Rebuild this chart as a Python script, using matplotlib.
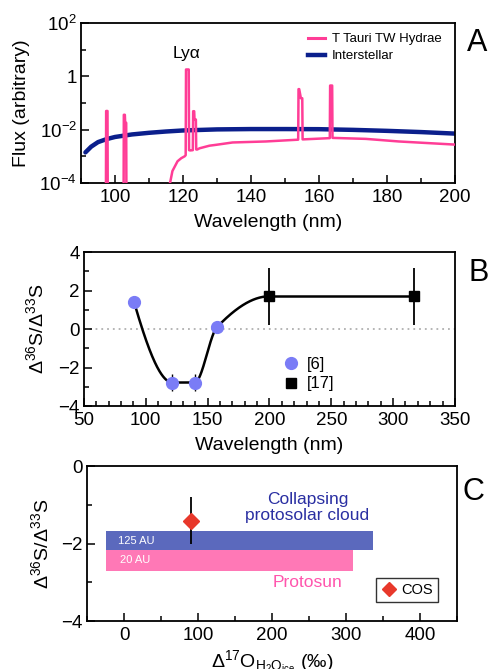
import numpy as np
import matplotlib
matplotlib.use("Agg")
import matplotlib.pyplot as plt
from matplotlib.ticker import MultipleLocator, FixedLocator, FuncFormatter
from matplotlib.lines import Line2D

plt.rcParams['font.family'] = ['Liberation Sans', 'DejaVu Sans']
plt.rcParams['mathtext.fontset'] = 'custom'
plt.rcParams['mathtext.rm'] = 'Liberation Sans'
plt.rcParams['mathtext.it'] = 'Liberation Sans:italic'
plt.rcParams['mathtext.bf'] = 'Liberation Sans:bold'

# ---------------- Panel A data ----------------
tw_wl = [90.0, 97.3, 97.4, 97.8, 97.9,
         102.5, 102.6, 102.9, 103.0, 103.3, 103.4,
         116.2, 116.9, 118.4, 119.5, 120.5, 120.8, 120.9, 121.7, 121.8, 122.1,
         122.9, 123.0, 123.3, 123.4, 123.8, 123.9, 124.2,
         124.9, 127.8, 129.8, 134.6, 144.4, 153.9,
         154.0, 154.2, 154.7, 154.8, 155.1, 155.2,
         163.2, 163.3, 163.9, 164.0, 173.8, 183.5, 200.0]
tw_flux = [1e-6, 1e-6, 0.05, 0.05, 1e-6,
           1e-6, 0.036, 0.036, 0.018, 0.018, 1e-6,
           1e-4, 2.8e-4, 6.5e-4, 8.5e-4, 1.0e-3, 1.1e-3, 1.8, 1.8, 1.7e-3, 1.66e-3,
           1.7e-3, 0.049, 0.049, 0.024, 0.024, 1.8e-3, 1.8e-3,
           2.0e-3, 2.5e-3, 2.7e-3, 3.3e-3, 3.6e-3, 4.2e-3,
           0.33, 0.33, 0.15, 0.15, 0.15, 4.3e-3,
           4.8e-3, 0.45, 0.45, 4.9e-3, 4.5e-3, 3.6e-3, 2.75e-3]

is_wl = [91.3, 93.0, 95.0, 97.5, 100.0, 105.0, 110.0, 115.0, 120.0,
         130.0, 140.0, 150.0, 160.0, 170.0, 180.0, 190.0, 200.0]
is_flux = [1.4e-3, 2.3e-3, 3.4e-3, 4.4e-3, 5.3e-3, 6.6e-3, 7.6e-3, 8.5e-3, 9.3e-3,
           1.02e-2, 1.05e-2, 1.05e-2, 1.04e-2, 9.8e-3, 9.0e-3, 8.1e-3, 7.1e-3]

# ---------------- Panel B data ----------------
ref6_wl = [90.5, 121.5, 139.6, 157.6]
ref6_val = [1.4, -2.78, -2.78, 0.1]
ref6_err = [0.0, 0.45, 0.45, 0.0]
ref17_wl = [200.0, 317.0]
ref17_val = [1.7, 1.7]
ref17_err = [1.47, 1.47]

# ---------------- Panel C data ----------------
cloud_x = [-24, 336]     # 125 AU (collapsing protosolar cloud)
cloud_y = [-2.17, -1.67]
sun_x = [-24, 309]       # 20 AU (protosun)
sun_y = [-2.70, -2.17]
cos_x = [90.0]
cos_y = [-1.41]
cos_err = [0.6]

PINK = '#ff3d96'
NAVY = '#0b1f8c'
FS_TICK = 13.5
FS_LAB = 14


def pchip(x, y, xn):
    x = np.asarray(x, float); y = np.asarray(y, float)
    h = np.diff(x); d = np.diff(y) / h
    n = len(x); m = np.zeros(n)
    for k in range(1, n - 1):
        if d[k - 1] * d[k] > 0:
            w1 = 2 * h[k] + h[k - 1]; w2 = h[k] + 2 * h[k - 1]
            m[k] = (w1 + w2) / (w1 / d[k - 1] + w2 / d[k])

    def endslope(h0, h1, d0, d1):
        s = ((2 * h0 + h1) * d0 - h0 * d1) / (h0 + h1)
        if np.sign(s) != np.sign(d0):
            s = 0.0
        elif np.sign(d0) != np.sign(d1) and abs(s) > abs(3 * d0):
            s = 3 * d0
        return s
    m[0] = endslope(h[0], h[1], d[0], d[1])
    m[-1] = endslope(h[-1], h[-2], d[-1], d[-2])
    idx = np.clip(np.searchsorted(x, xn) - 1, 0, n - 2)
    t = (xn - x[idx]) / h[idx]
    h00 = 2 * t**3 - 3 * t**2 + 1; h10 = t**3 - 2 * t**2 + t
    h01 = -2 * t**3 + 3 * t**2; h11 = t**3 - t**2
    return h00 * y[idx] + h10 * h[idx] * m[idx] + h01 * y[idx + 1] + h11 * h[idx] * m[idx + 1]


def style(ax):
    for s in ax.spines.values():
        s.set_linewidth(1.3)
    ax.tick_params(which='both', direction='in', top=False, right=False,
                   labelsize=FS_TICK, width=1.1, pad=3)
    ax.tick_params(axis='x', which='major', pad=4)
    ax.tick_params(which='major', length=5.5)
    ax.tick_params(which='minor', length=3.5)


fig = plt.figure(figsize=(4.9, 6.69), dpi=100)
axA = fig.add_axes([0.1653, 0.7265, 0.763, 0.2392])
axB = fig.add_axes([0.1714, 0.3931, 0.757, 0.2302])
axC = fig.add_axes([0.1776, 0.0717, 0.755, 0.2317])

# ---------------- Panel A ----------------
axA.plot(is_wl, is_flux, color=NAVY, lw=3.2, solid_capstyle='round', label='Interstellar', zorder=2)
axA.plot(tw_wl, tw_flux, color=PINK, lw=1.8, label='T Tauri TW Hydrae', zorder=3)
axA.set_yscale('log')
axA.set_xlim(90, 200)
axA.set_ylim(1e-4, 1e2)
axA.xaxis.set_major_locator(MultipleLocator(20))
axA.xaxis.set_minor_locator(MultipleLocator(10))
axA.yaxis.set_major_locator(FixedLocator([1e-4, 1e-2, 1, 1e2]))
axA.yaxis.set_minor_locator(FixedLocator([1e-3, 1e-1, 10]))
ylabmap = {-4: '10$^{-4}$', -2: '10$^{-2}$', 0: '1', 2: '10$^{2}$'}
axA.yaxis.set_major_formatter(FuncFormatter(lambda v, p: ylabmap.get(int(round(np.log10(v))), '')))
axA.yaxis.set_minor_formatter(FuncFormatter(lambda v, p: ''))
style(axA)
axA.set_xlabel('Wavelength (nm)', fontsize=FS_LAB, labelpad=6)
axA.set_ylabel('Flux (arbitrary)', fontsize=FS_LAB)
axA.yaxis.set_label_coords(-0.136, 0.5)
axA.text(121, 7.0, 'Lyα', fontsize=12.5, ha='center', va='center')
hA = [Line2D([], [], color=PINK, lw=2.2), Line2D([], [], color=NAVY, lw=3.2)]
axA.legend(hA, ['T Tauri TW Hydrae', 'Interstellar'], loc='upper right',
           bbox_to_anchor=(0.985, 0.985), frameon=False, fontsize=9.5,
           handlelength=1.3, handletextpad=0.5, labelspacing=0.35, borderaxespad=0.2)

# ---------------- Panel B ----------------
xs = np.linspace(ref6_wl[0], ref17_wl[0], 300)
curve_x = ref6_wl + [ref17_wl[0]]
curve_y = ref6_val + [ref17_val[0]]
axB.axhline(0, color='#b0b0b0', lw=1.3, ls=(0, (1, 2.2)), zorder=1)
axB.plot(xs, pchip(curve_x, curve_y, xs), color='black', lw=1.8, zorder=2)
axB.errorbar(ref6_wl, ref6_val, yerr=ref6_err, fmt='o', color='#7a7cf6', ms=8.5,
             mec='#7a7cf6', ecolor='black', elinewidth=1.0, capsize=0, zorder=4, label='[6]')
axB.errorbar(ref17_wl, ref17_val, yerr=ref17_err, fmt='s-', color='black', ms=6.5,
             lw=1.8, elinewidth=1.3, capsize=0, zorder=3, label='[17]')
axB.set_xlim(50, 350)
axB.set_ylim(-4, 4)
axB.xaxis.set_major_locator(MultipleLocator(50))
axB.xaxis.set_minor_locator(MultipleLocator(10))
axB.yaxis.set_major_locator(MultipleLocator(2))
axB.yaxis.set_minor_locator(MultipleLocator(1))
style(axB)
axB.set_xlabel('Wavelength (nm)', fontsize=FS_LAB, labelpad=6)
axB.set_ylabel('Δ$^{36}$S/Δ$^{33}$S', fontsize=FS_LAB)
axB.yaxis.set_label_coords(-0.10, 0.5)
hB = [Line2D([], [], marker='o', ls='none', color='#7a7cf6', ms=8.5),
      Line2D([], [], marker='s', ls='none', color='black', ms=6.5)]
axB.legend(hB, ['[6]', '[17]'], loc='lower left', bbox_to_anchor=(0.51, 0.03),
           frameon=False, fontsize=12, handlelength=1.0, handletextpad=0.4,
           labelspacing=0.25, borderaxespad=0.2)

# ---------------- Panel C ----------------
axC.fill_between(cloud_x, cloud_y[0], cloud_y[1], color='#5b69bd', lw=0, zorder=2)
axC.fill_between(sun_x, sun_y[0], sun_y[1], color='#ff78b6', lw=0, zorder=2)
axC.errorbar(cos_x, cos_y, yerr=cos_err, fmt='D', color='#e8382b', ms=8,
             ecolor='black', elinewidth=1.3, capsize=0, zorder=4)
axC.text(-8, -1.94, '125 AU', color='white', fontsize=8, ha='left', va='center', zorder=5)
axC.text(-6, -2.43, '20 AU', color='white', fontsize=8, ha='left', va='center', zorder=5)
axC.text(248, -1.08, 'Collapsing\nprotosolar cloud', color='#2a2fa2', fontsize=12.5,
         ha='center', va='center', linespacing=1.1)
axC.text(248, -3.0, 'Protosun', color='#ff55ad', fontsize=12.5, ha='center', va='center')
axC.set_xlim(-50, 450)
axC.set_ylim(-4, 0)
axC.xaxis.set_major_locator(MultipleLocator(100))
axC.xaxis.set_minor_locator(MultipleLocator(50))
axC.yaxis.set_major_locator(MultipleLocator(2))
axC.yaxis.set_minor_locator(MultipleLocator(1))
style(axC)
axC.set_xlabel('Δ$^{17}$O$_{\\mathrm{H_2O_{ice}}}$ (‰)', fontsize=FS_LAB, labelpad=3)
axC.set_ylabel('Δ$^{36}$S/Δ$^{33}$S', fontsize=FS_LAB)
axC.yaxis.set_label_coords(-0.095, 0.5)
hC = [Line2D([], [], marker='D', ls='none', color='#e8382b', ms=7)]
legC = axC.legend(hC, ['COS'], loc='lower right', bbox_to_anchor=(0.95, 0.12),
                  frameon=True, fancybox=False, fontsize=10.5, handlelength=1.0,
                  handletextpad=0.4, borderpad=0.35, borderaxespad=0.0)
legC.get_frame().set_edgecolor('black')
legC.get_frame().set_linewidth(1.0)

# Panel letters
fig.text(0.974, 0.935, 'A', fontsize=22, ha='center', va='center')
fig.text(0.976, 0.592, 'B', fontsize=22, ha='center', va='center')
fig.text(0.966, 0.265, 'C', fontsize=22, ha='center', va='center')

fig.savefig('out.png', dpi=100)
